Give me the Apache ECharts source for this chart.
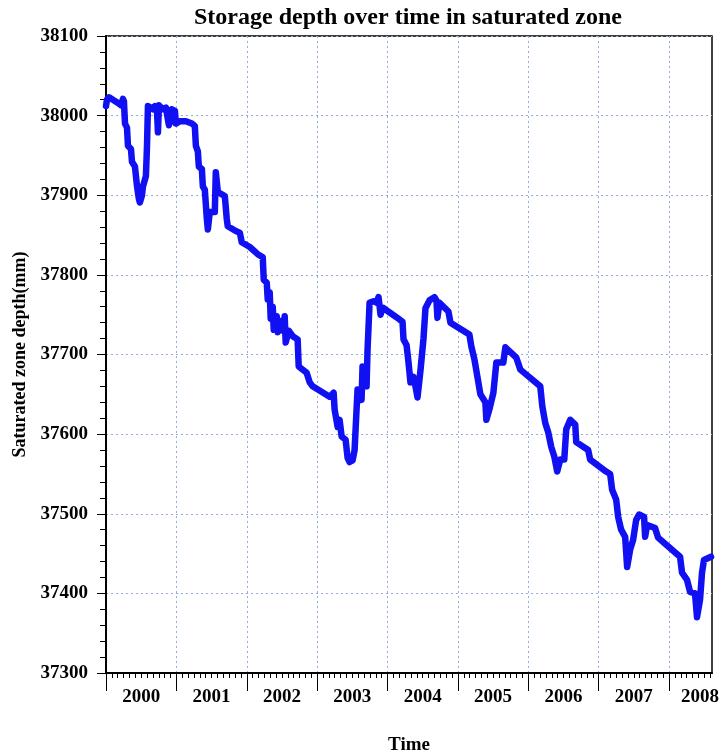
<!DOCTYPE html>
<html>
<head>
<meta charset="utf-8">
<script src="https://cdn.jsdelivr.net/npm/echarts@6/dist/echarts.min.js"></script>
<style>
html,body{margin:0;padding:0;background:#fff;}
#chart{width:722px;height:754px;}
</style>
</head>
<body>
<div id="chart"></div>
<script>
// Time in decimal years
var times = [
2000.000,2000.014,2000.043,2000.170,2000.213,2000.241,2000.255,2000.270,2000.298,2000.312,
2000.355,2000.369,2000.411,2000.440,2000.468,2000.482,2000.511,2000.525,2000.567,2000.582,
2000.596,2000.638,2000.667,2000.695,2000.723,2000.738,2000.752,2000.809,2000.851,2000.879,
2000.894,2000.922,2000.936,2000.979,2000.993,2001.050,2001.135,2001.220,2001.262,2001.277,
2001.305,2001.319,2001.362,2001.376,2001.404,2001.433,2001.447,2001.475,2001.546,2001.560,
2001.589,2001.688,2001.716,2001.730,2001.844,2001.901,2001.929,2002.043,2002.156,2002.227,
2002.241,2002.284,2002.298,2002.326,2002.340,2002.369,2002.383,2002.426,2002.440,2002.482,
2002.511,2002.539,2002.553,2002.596,2002.652,2002.723,2002.738,2002.851,2002.894,2002.936,
2003.177,2003.234,2003.248,2003.291,2003.319,2003.348,2003.404,2003.433,2003.461,2003.504,
2003.532,2003.560,2003.574,2003.617,2003.631,2003.645,2003.688,2003.702,2003.716,2003.745,
2003.801,2003.844,2003.872,2003.887,2003.901,2003.929,2004.170,2004.213,2004.227,2004.270,
2004.298,2004.326,2004.369,2004.397,2004.426,2004.468,2004.511,2004.539,2004.596,2004.667,
2004.695,2004.709,2004.738,2004.865,2004.894,2005.163,2005.191,2005.234,2005.277,2005.319,
2005.390,2005.404,2005.447,2005.504,2005.546,2005.645,2005.674,2005.830,2005.887,2006.170,
2006.199,2006.241,2006.284,2006.326,2006.369,2006.411,2006.454,2006.511,2006.539,2006.596,
2006.667,2006.681,2006.851,2006.879,2007.106,2007.163,2007.191,2007.248,2007.277,2007.319,
2007.376,2007.404,2007.447,2007.489,2007.532,2007.574,2007.645,2007.660,2007.688,2007.801,
2007.844,2008.156,2008.184,2008.255,2008.298,2008.369,2008.397,2008.440,2008.468,2008.496,
2008.596
];
// Saturated zone depth (mm)
var depth = [
38012,38020,38023,38016,38013,38021,38018,37990,37985,37962,
37958,37942,37936,37912,37895,37891,37900,37911,37924,37960,
38012,38010,38008,38012,38009,37979,38013,38008,38010,38008,
37988,37995,38008,38006,37990,37993,37993,37990,37987,37962,
37955,37936,37933,37911,37907,37870,37857,37879,37879,37929,
37904,37899,37870,37861,37855,37853,37841,37835,37826,37822,
37794,37790,37769,37778,37745,37760,37731,37748,37728,37742,
37730,37748,37715,37730,37723,37719,37685,37677,37665,37660,
37647,37652,37631,37609,37618,37597,37593,37570,37565,37567,
37580,37631,37656,37650,37643,37685,37668,37660,37706,37765,
37767,37765,37772,37770,37750,37759,37744,37741,37719,37712,
37690,37665,37672,37660,37646,37680,37720,37758,37768,37772,
37768,37746,37765,37754,37740,37725,37710,37694,37672,37650,
37640,37618,37631,37652,37690,37690,37709,37696,37681,37660,
37635,37614,37602,37584,37572,37553,37568,37568,37606,37618,
37612,37590,37580,37568,37553,37550,37530,37518,37496,37480,
37471,37433,37455,37467,37492,37499,37496,37471,37486,37482,
37470,37446,37426,37417,37402,37400,37370,37392,37426,37442,
37446
];
var yearLabels = [2000,2001,2002,2003,2004,2005,2006,2007,2008];
var yTicks = [37300,37400,37500,37600,37700,37800,37900,38000,38100];

var serif = '"Liberation Serif","Times New Roman",serif';
var data = times.map(function(t,i){return [t, depth[i]];});
var gridLine = {type:[2,3], color:'#93aed6', width:1};

var chart = echarts.init(document.getElementById('chart'), null, {renderer:'canvas'});
chart.setOption({
  animation:false,
  backgroundColor:'#fff',
  title:{
    text:'Storage depth over time in saturated zone',
    left:189, top:1,
    textStyle:{fontFamily:serif, fontWeight:'bold', fontSize:24, color:'#000'}
  },
  grid:{left:106, right:10, top:36, bottom:81, containLabel:false, outerBoundsMode:'none',
        show:true, borderColor:'#000', borderWidth:1.5, backgroundColor:'#fff'},
  xAxis:{
    type:'value', min:2000, max:2008.61, interval:1,
    name:'Time', nameLocation:'middle', nameGap:63,
    nameTextStyle:{fontFamily:serif, fontWeight:'bold', fontSize:19, color:'#000'},
    axisLine:{show:true, onZero:false, lineStyle:{color:'#000', width:2}},
    axisTick:{show:true, length:18, customValues:yearLabels, lineStyle:{color:'#000', width:1}},
    minorTick:{show:true, splitNumber:12, length:5, lineStyle:{color:'#000', width:1}},
    axisLabel:{
      customValues:yearLabels.map(function(y){return Math.min(y+0.5, 2008.44);}),
      formatter:function(v){return String(Math.floor(v));},
      fontFamily:serif, fontWeight:'bold', fontSize:19, color:'#000', margin:15
    },
    splitLine:{show:true, lineStyle:gridLine},
    minorSplitLine:{show:false}
  },
  yAxis:{
    type:'value', min:37300, max:38100, interval:100,
    name:'Saturated zone depth(mm)', nameLocation:'middle', nameGap:77,
    nameTextStyle:{fontFamily:serif, fontWeight:'bold', fontSize:18, color:'#000'},
    axisLine:{show:true, lineStyle:{color:'#000', width:2}},
    axisTick:{show:true, length:9, lineStyle:{color:'#000', width:1}},
    minorTick:{show:true, splitNumber:5, length:6, lineStyle:{color:'#000', width:1}},
    axisLabel:{
      customValues:yTicks,
      formatter:function(v){return String(v);},
      fontFamily:serif, fontWeight:'bold', fontSize:19, color:'#000', margin:18
    },
    splitLine:{show:true, lineStyle:gridLine}
  },
  series:[{
    type:'line', data:data, showSymbol:false, symbol:'none',
    lineStyle:{color:'#1010f2', width:6.5, join:'round', cap:'round'},
    clip:true
  }]
});
</script>
</body>
</html>
